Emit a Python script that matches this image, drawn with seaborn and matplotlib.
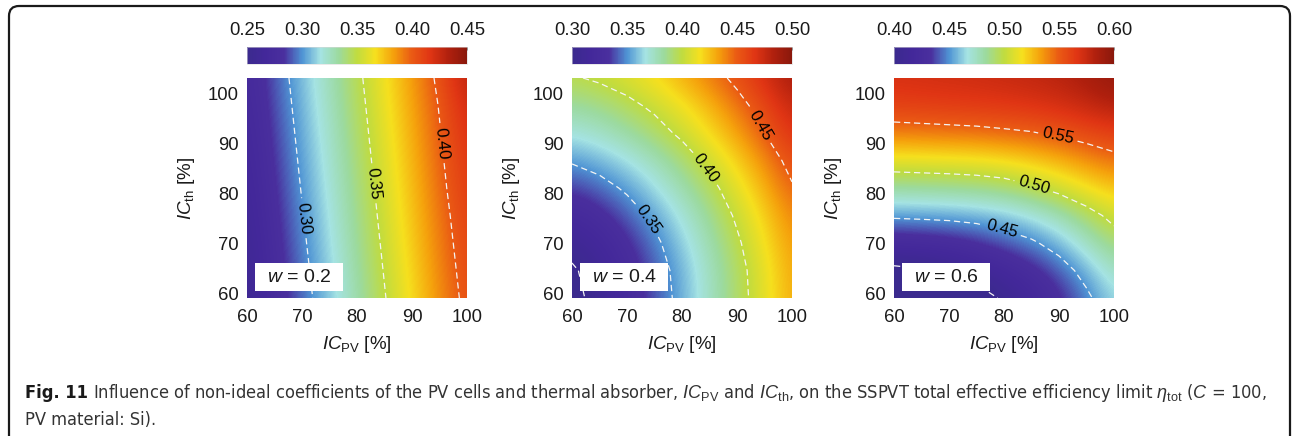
import numpy as np
import matplotlib
matplotlib.use("Agg")
import matplotlib.pyplot as plt
import seaborn as sns
from matplotlib.patches import FancyBboxPatch, Rectangle
from matplotlib.transforms import IdentityTransform


# grid of the maps (IC_PV across, IC_th up)
ic_pv = [60, 65, 70, 75, 80, 85, 90, 95, 100]
ic_th = [59, 64.5, 70, 75.5, 81, 86.5, 92, 97.5, 103]

# eta_tot, one row per IC_th value (bottom to top)
eta_w02 = [
    [0.255, 0.274, 0.293, 0.311, 0.330, 0.349, 0.368, 0.387, 0.405],
    [0.257, 0.276, 0.295, 0.313, 0.332, 0.351, 0.370, 0.389, 0.407],
    [0.259, 0.278, 0.297, 0.315, 0.334, 0.353, 0.372, 0.391, 0.409],
    [0.261, 0.280, 0.299, 0.317, 0.336, 0.355, 0.374, 0.393, 0.411],
    [0.263, 0.282, 0.301, 0.319, 0.338, 0.357, 0.376, 0.395, 0.414],
    [0.265, 0.284, 0.303, 0.321, 0.340, 0.359, 0.378, 0.397, 0.416],
    [0.267, 0.286, 0.305, 0.323, 0.342, 0.361, 0.380, 0.399, 0.419],
    [0.269, 0.288, 0.307, 0.325, 0.344, 0.363, 0.382, 0.401, 0.423],
    [0.271, 0.290, 0.309, 0.327, 0.346, 0.365, 0.384, 0.404, 0.430],
]
eta_w04 = [
    [0.293, 0.308, 0.323, 0.339, 0.356, 0.374, 0.392, 0.411, 0.431],
    [0.297, 0.310, 0.325, 0.341, 0.357, 0.375, 0.393, 0.412, 0.432],
    [0.308, 0.318, 0.331, 0.346, 0.362, 0.379, 0.397, 0.416, 0.435],
    [0.321, 0.329, 0.341, 0.354, 0.369, 0.385, 0.403, 0.421, 0.440],
    [0.336, 0.343, 0.353, 0.365, 0.379, 0.394, 0.411, 0.429, 0.448],
    [0.352, 0.358, 0.366, 0.377, 0.390, 0.405, 0.421, 0.438, 0.457],
    [0.369, 0.374, 0.382, 0.392, 0.404, 0.418, 0.433, 0.450, 0.468],
    [0.383, 0.387, 0.395, 0.404, 0.415, 0.428, 0.443, 0.459, 0.476],
    [0.398, 0.403, 0.409, 0.418, 0.429, 0.441, 0.455, 0.470, 0.487],
]
eta_w06 = [
    [0.366, 0.370, 0.378, 0.390, 0.403, 0.416, 0.430, 0.446, 0.465],
    [0.395, 0.398, 0.402, 0.410, 0.419, 0.429, 0.441, 0.457, 0.475],
    [0.424, 0.425, 0.428, 0.433, 0.440, 0.447, 0.458, 0.474, 0.490],
    [0.453, 0.454, 0.455, 0.457, 0.461, 0.468, 0.478, 0.492, 0.506],
    [0.483, 0.484, 0.485, 0.487, 0.490, 0.497, 0.506, 0.516, 0.525],
    [0.512, 0.513, 0.514, 0.515, 0.518, 0.523, 0.529, 0.537, 0.544],
    [0.542, 0.543, 0.544, 0.545, 0.547, 0.549, 0.553, 0.558, 0.563],
    [0.562, 0.563, 0.564, 0.565, 0.566, 0.568, 0.571, 0.576, 0.582],
    [0.570, 0.571, 0.572, 0.573, 0.575, 0.577, 0.580, 0.586, 0.595],
]

w_labels = ["0.2", "0.4", "0.6"]
cbar_ticks = [
    [0.25, 0.30, 0.35, 0.40, 0.45],
    [0.30, 0.35, 0.40, 0.45, 0.50],
    [0.40, 0.45, 0.50, 0.55, 0.60],
]
contour_levels = [
    [0.30, 0.35, 0.40],
    [0.30, 0.35, 0.40, 0.45],
    [0.40, 0.45, 0.50, 0.55],
]
# where the inline labels sit (one per labelled line)
label_spots = [
    [(70.6, 75), (83.5, 82), (95.6, 90)],
    [(73.6, 74.5), (85, 85.5), (93, 92.7)],
    [(79.8, 73.8), (85.6, 82), (90, 92.5)],
]
axis_ticks = [60, 70, 80, 90, 100]

sns.set_theme(style="white")
plt.rcParams["font.family"] = ["Liberation Sans", "DejaVu Sans"]
plt.rcParams["mathtext.fontset"] = "custom"
plt.rcParams["mathtext.rm"] = "Liberation Sans"
plt.rcParams["mathtext.it"] = "Liberation Sans:italic"
plt.rcParams["mathtext.bf"] = "Liberation Sans:bold"

# rainbow map as on the colour bars
cmap = sns.blend_palette(
    ["#3b2a8e", "#43289a", "#4a2f9e", "#4f94d4", "#a5e3e3", "#9cda9e", "#c0dc40",
     "#f6e01e", "#f5a00c", "#ea5a14", "#e03514", "#b0200e", "#8a180c"],
    n_colors=256, as_cmap=True)

W, H = 1292, 436
fig = plt.figure(figsize=(W / 100, H / 100), dpi=100)

panels = [eta_w02, eta_w04, eta_w06]
lefts = [247, 572, 894]

for i, z in enumerate(panels):
    z = np.array(z)
    x0 = lefts[i]
    ax = fig.add_axes([x0 / W, (H - 298) / H, 220 / W, 220 / H])
    cax = fig.add_axes([x0 / W, (H - 64) / H, 220 / W, 17 / H])
    vmin, vmax = cbar_ticks[i][0], cbar_ticks[i][-1]

    im = ax.imshow(z, origin="lower", cmap=cmap, vmin=vmin, vmax=vmax,
                   interpolation="bicubic", aspect="auto",
                   extent=(57.5, 102.5, 56.25, 105.75))
    ax.set_xlim(60, 100)
    ax.set_ylim(59, 103)

    cs = ax.contour(ic_pv, ic_th, z, levels=contour_levels[i], colors="#f4f4f4",
                    linewidths=0.9, linestyles=[(0, (5, 3))])
    ax.clabel(cs, manual=label_spots[i], inline=True,
              inline_spacing=4, fmt="%.2f", fontsize=12, colors="black")

    ax.set_xticks(axis_ticks)
    ax.set_yticks(axis_ticks)
    ax.tick_params(axis="x", length=0, labelsize=13.3, pad=8, colors="#1a1a1a")
    ax.tick_params(axis="y", length=0, labelsize=13.3, pad=6, colors="#1a1a1a")
    for s in ax.spines.values():
        s.set_visible(False)
    ax.set_xlabel(r"$\mathit{IC}_{\mathrm{PV}}$ [%]", fontsize=13.5, labelpad=6, color="#1a1a1a")
    ax.set_ylabel(r"$\mathit{IC}_{\mathrm{th}}$ [%]", fontsize=13.5, labelpad=8, color="#1a1a1a")

    ax.add_patch(Rectangle((0.038, 0.032), 0.40, 0.127, transform=ax.transAxes,
                           facecolor="white", edgecolor="none", zorder=5))
    ax.text(0.238, 0.095, r"$\mathit{w}$ = " + w_labels[i], transform=ax.transAxes,
            ha="center", va="center", fontsize=14, zorder=6, color="#1a1a1a")

    cb = fig.colorbar(im, cax=cax, orientation="horizontal")
    cb.set_ticks(cbar_ticks[i])
    cb.set_ticklabels([f"{t:.2f}" for t in cbar_ticks[i]])
    cax.xaxis.set_ticks_position("top")
    cax.tick_params(axis="x", direction="in", length=2, width=0.6, pad=6,
                    labelsize=13.3, colors="#1a1a1a")
    cb.outline.set_linewidth(0.4)
    cb.outline.set_edgecolor("#d8d8d8")

# caption, in a condensed face
cap = dict(family="DejaVu Sans", stretch="condensed", fontsize=13.05, va="baseline")
t0 = fig.text(25 / W, (H - 398) / H, "Fig. 11", fontweight="bold", color="#1a1a1a", **cap)
fig.canvas.draw()
bb = t0.get_window_extent()
fig.text((bb.x1 + 5) / W, (H - 398) / H,
         r"Influence of non-ideal coefficients of the PV cells and thermal absorber, "
         r"$\mathit{IC}_{\mathrm{PV}}$ and $\mathit{IC}_{\mathrm{th}}$, on the SSPVT total "
         r"effective efficiency limit $\eta_{\mathrm{tot}}$ ($\mathit{C}$ = 100,",
         color="#333333", **cap)
fig.text(25 / W, (H - 425) / H, "PV material: Si).", color="#333333", **cap)

# rounded frame round the figure
frame = FancyBboxPatch((9, -30), 1281, H - 6 + 30, boxstyle="round,pad=0,rounding_size=10",
                       transform=IdentityTransform(), facecolor="none",
                       edgecolor="#1a1a1a", linewidth=1.6, clip_on=False)
fig.patches.append(frame)

fig.savefig("out.png", dpi=100)
